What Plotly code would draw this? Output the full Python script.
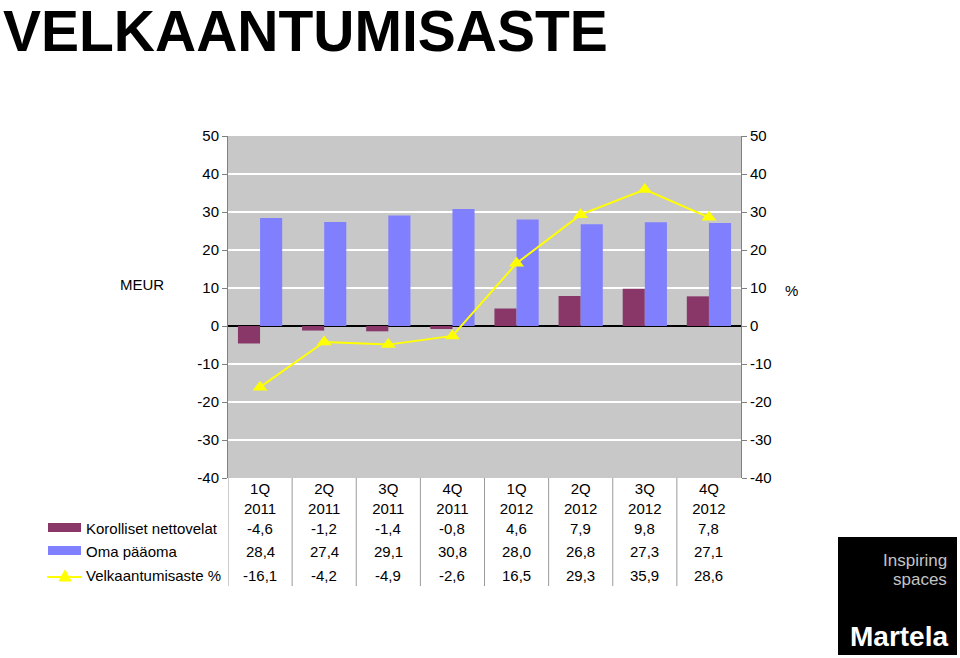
import plotly.graph_objects as go

categories = ["1Q<br>2011", "2Q<br>2011", "3Q<br>2011", "4Q<br>2011",
              "1Q<br>2012", "2Q<br>2012", "3Q<br>2012", "4Q<br>2012"]
korolliset = [-4.6, -1.2, -1.4, -0.8, 4.6, 7.9, 9.8, 7.8]
oma_paaoma = [28.4, 27.4, 29.1, 30.8, 28.0, 26.8, 27.3, 27.1]
velkaantumisaste = [-16.1, -4.2, -4.9, -2.6, 16.5, 29.3, 35.9, 28.6]
series_names = ["Korolliset nettovelat", "Oma pääoma", "Velkaantumisaste %"]
tick_vals = [-40, -30, -20, -10, 0, 10, 20, 30, 40, 50]
tick_text = [str(v) for v in tick_vals]

W, H = 960, 658
L, R, T, B = 228, 741, 136, 478
FONT = "Liberation Sans, Arial, sans-serif"
MAROON = "#893668"
BLUE = "#8080FF"
YELLOW = "#FFFF00"
FS = 15


def px(x):
    return (x - L) / (R - L)


def py(y):
    return (B - y) / (B - T)


fig = go.Figure()
fig.add_trace(go.Bar(x=categories, y=korolliset, name=series_names[0],
                     marker=dict(color=MAROON, line=dict(width=0))))
fig.add_trace(go.Bar(x=categories, y=oma_paaoma, name=series_names[1],
                     marker=dict(color=BLUE, line=dict(width=0))))
fig.add_trace(go.Scatter(x=categories, y=velkaantumisaste, name=series_names[2],
                         mode="lines+markers", yaxis="y2",
                         line=dict(color=YELLOW, width=2),
                         marker=dict(symbol="triangle-up", size=13, color=YELLOW)))

annotations = []
shapes = []

# title
annotations.append(dict(text="<b>VELKAANTUMISASTE</b>", x=px(1), y=py(-3),
                        xref="paper", yref="paper", xanchor="left", yanchor="top",
                        showarrow=False, font=dict(family=FONT, size=57, color="black")))
annotations.append(dict(text="MEUR", x=px(142), y=py(284), xref="paper", yref="paper",
                        xanchor="center", yanchor="middle",
                        showarrow=False, font=dict(family=FONT, size=FS, color="black")))
annotations.append(dict(text="%", x=px(791), y=py(290), xref="paper", yref="paper",
                        xanchor="center", yanchor="middle",
                        showarrow=False, font=dict(family=FONT, size=FS, color="black")))

# data table
rows = [korolliset, oma_paaoma, velkaantumisaste]
row_y = [528, 551, 575]
for r, (vals, yy, nm) in enumerate(zip(rows, row_y, series_names)):
    annotations.append(dict(text=nm, x=px(84), y=py(yy), xref="paper", yref="paper",
                            xanchor="left", yanchor="middle", showarrow=False,
                            font=dict(family=FONT, size=FS, color="black")))
    for c, v in zip(categories, vals):
        annotations.append(dict(text=f"{v:.1f}".replace(".", ","), x=c, y=py(yy),
                                xref="x", yref="paper", xanchor="center", yanchor="middle",
                                showarrow=False, font=dict(family=FONT, size=FS, color="black")))

for i in range(len(categories)):
    shapes.append(dict(type="line", xref="x", yref="paper", x0=i - 0.5, x1=i - 0.5,
                       y0=0, y1=py(586), line=dict(color="#9A9A9A", width=1)))

# legend keys in table
shapes.append(dict(type="rect", xref="paper", yref="paper", x0=px(48), x1=px(81),
                   y0=py(523), y1=py(532), fillcolor=MAROON, line=dict(width=0)))
shapes.append(dict(type="rect", xref="paper", yref="paper", x0=px(48), x1=px(81),
                   y0=py(546), y1=py(555), fillcolor=BLUE, line=dict(width=0)))
shapes.append(dict(type="line", xref="paper", yref="paper", x0=px(47), x1=px(82),
                   y0=py(577), y1=py(577), line=dict(color=YELLOW, width=2)))
shapes.append(dict(type="path", xref="paper", yref="paper",
                   path=f"M {px(59)} {py(581)} L {px(71)} {py(581)} L {px(65)} {py(570)} Z",
                   fillcolor=YELLOW, line=dict(color=YELLOW, width=1)))

# logo
shapes.append(dict(type="rect", xref="paper", yref="paper", x0=px(838), x1=px(957),
                   y0=py(537), y1=py(655), fillcolor="black", line=dict(width=0)))
annotations.append(dict(text="Inspiring", x=px(949), y=py(560), xref="paper", yref="paper",
                        xanchor="right", yanchor="middle", showarrow=False,
                        font=dict(family=FONT, size=17, color="#C4C4C4")))
annotations.append(dict(text="spaces", x=px(949), y=py(579), xref="paper", yref="paper",
                        xanchor="right", yanchor="middle", showarrow=False,
                        font=dict(family=FONT, size=17, color="#C4C4C4")))
annotations.append(dict(text="<b>Martela</b>", x=px(950), y=py(636), xref="paper", yref="paper",
                        xanchor="right", yanchor="middle", showarrow=False,
                        font=dict(family=FONT, size=28, color="white")))

axis_common = dict(range=[-40, 50], tickvals=tick_vals, ticktext=tick_text,
                   ticks="outside", ticklen=5,
                   tickcolor="#808080", showline=True, linecolor="#808080", linewidth=1,
                   tickfont=dict(family=FONT, size=FS, color="black"))

fig.update_layout(
    width=W, height=H,
    margin=dict(l=L, r=W - R, t=T, b=H - B, pad=0),
    paper_bgcolor="white", plot_bgcolor="#C8C8C8",
    showlegend=False,
    barmode="group", bargap=0.31, bargroupgap=0,
    font=dict(family=FONT, size=FS, color="black"),
    xaxis=dict(type="category", range=[-0.5, 7.5], showgrid=False, ticks="",
               tickfont=dict(family=FONT, size=FS, color="black"), showline=False,
               zeroline=False),
    yaxis=dict(**axis_common, showgrid=True, gridcolor="white", gridwidth=1.5,
               zeroline=True, zerolinecolor="black", zerolinewidth=1.5),
    yaxis2=dict(**axis_common, overlaying="y", side="right", showgrid=False,
                zeroline=False),
    annotations=annotations,
    shapes=shapes,
)

fig.write_html("out.html",
               config={"displayModeBar": False},
               post_script="document.body.style.margin='0';"
                           "document.documentElement.style.overflow='hidden';")
